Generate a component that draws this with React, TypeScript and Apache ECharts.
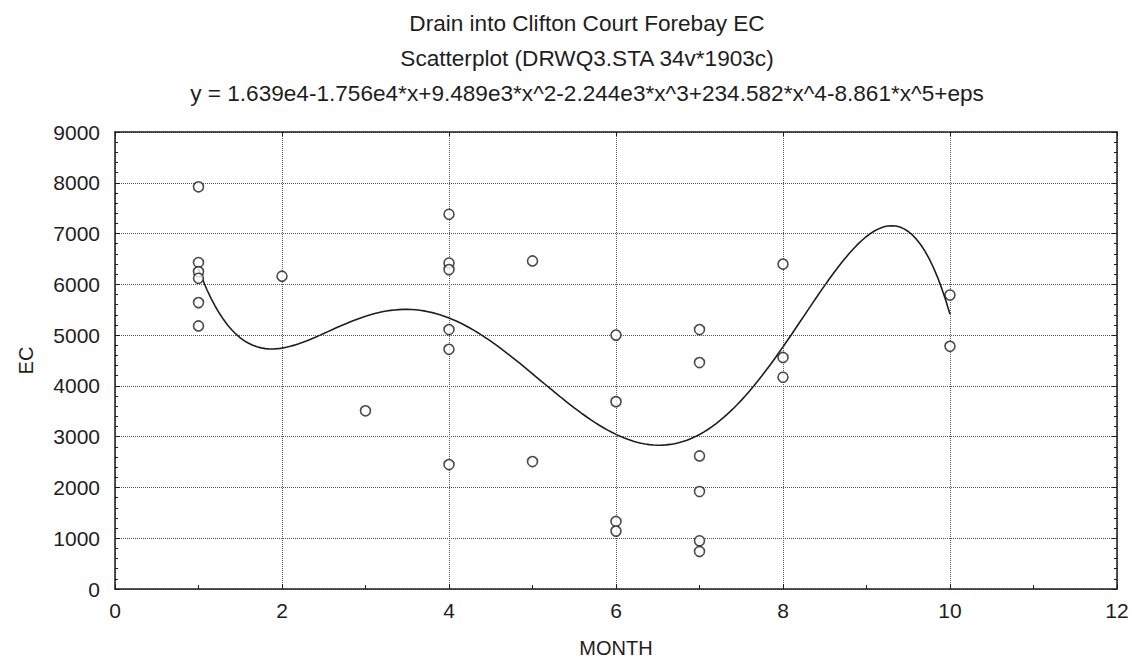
import React, { useEffect, useRef } from "react";
import * as echarts from "echarts";

// Header lines shown above the plot
const titleLines = [
  "Drain into Clifton Court Forebay EC",
  "Scatterplot (DRWQ3.STA 34v*1903c)",
  "y = 1.639e4-1.756e4*x+9.489e3*x^2-2.244e3*x^3+234.582*x^4-8.861*x^5+eps",
];

// Observations: month of sample and measured EC
const months = [
  1, 1, 1, 1, 1, 1,
  2,
  3,
  4, 4, 4, 4, 4, 4,
  5, 5,
  6, 6, 6, 6,
  7, 7, 7, 7, 7, 7,
  8, 8, 8,
  10, 10,
];
const ecValues = [
  7920, 6430, 6250, 6120, 5640, 5180,
  6160,
  3510,
  7380, 6420, 6290, 5110, 4720, 2450,
  6460, 2510,
  5000, 3690, 1330, 1140,
  5110, 4460, 2620, 1920, 950, 740,
  6400, 4560, 4170,
  5790, 4780,
];

// Polynomial fit coefficients (constant term first), as printed in the header
const fitCoefficients = [16390, -17560, 9489, -2244, 234.582, -8.861];
const fitFrom = 1;
const fitTo = 10;

// Axis settings
const xMin = 0;
const xMax = 12;
const xStep = 2;
const yMin = 0;
const yMax = 9000;
const yStep = 1000;
const xAxisTitle = "MONTH";
const yAxisTitle = "EC";

const FONT = "'Liberation Sans', Arial, sans-serif";
const INK = "#1e1e1e";

function evalPoly(coeffs: number[], x: number): number {
  let s = 0;
  for (let i = coeffs.length - 1; i >= 0; i--) s = s * x + coeffs[i];
  return s;
}

export default function App() {
  const ref = useRef<HTMLDivElement>(null);

  useEffect(() => {
    if (!ref.current) return;
    const chart = echarts.init(ref.current, undefined, { renderer: "svg" });

    const scatterData = months.map((m, i) => [m, ecValues[i]]);
    const curve: number[][] = [];
    const steps = 180;
    for (let i = 0; i <= steps; i++) {
      const x = fitFrom + ((fitTo - fitFrom) * i) / steps;
      curve.push([x, evalPoly(fitCoefficients, x)]);
    }

    const frameLine = { show: true, onZero: false, lineStyle: { color: INK, width: 1.5 } };
    const gridDots = { show: true, lineStyle: { color: "#555", width: 1, type: "dotted" as const } };
    const plain = (v: number) => String(v);

    chart.setOption({
      animation: false,
      backgroundColor: "#ffffff",
      textStyle: { fontFamily: FONT },
      grid: { left: 115, right: 18, top: 132, bottom: 77, containLabel: false },
      graphic: titleLines.map((t, i) => ({
        type: "text",
        x: 587,
        y: 23 + i * 35,
        style: {
          text: t,
          fill: INK,
          font: `22.6px ${FONT}`,
          textAlign: "center",
          textVerticalAlign: "middle",
        },
      })),
      xAxis: [
        {
          type: "value",
          min: xMin,
          max: xMax,
          interval: xStep,
          position: "bottom",
          axisLine: frameLine,
          axisTick: { show: true, inside: true, length: 5, lineStyle: { color: INK } },
          minorTick: { show: true, splitNumber: 2, length: 4, lineStyle: { color: INK } },
          splitLine: gridDots,
          axisLabel: { color: INK, fontSize: 21, margin: 11, fontFamily: FONT, formatter: plain },
          name: xAxisTitle,
          nameLocation: "middle",
          nameGap: 49,
          nameTextStyle: { color: INK, fontSize: 20, fontFamily: FONT },
        },
        {
          type: "value",
          min: xMin,
          max: xMax,
          interval: xStep,
          position: "top",
          axisLine: frameLine,
          axisTick: { show: true, inside: true, length: 4, lineStyle: { color: INK } },
          minorTick: { show: false },
          splitLine: { show: false },
          axisLabel: { show: false },
        },
      ],
      yAxis: [
        {
          type: "value",
          min: yMin,
          max: yMax,
          interval: yStep,
          position: "left",
          axisLine: frameLine,
          axisTick: { show: true, inside: true, length: 5, lineStyle: { color: INK } },
          minorTick: { show: true, splitNumber: 5, length: 3, lineStyle: { color: INK } },
          splitLine: gridDots,
          axisLabel: { color: INK, fontSize: 21, margin: 15, fontFamily: FONT, formatter: plain },
          name: yAxisTitle,
          nameLocation: "middle",
          nameRotate: 90,
          nameGap: 79,
          nameTextStyle: { color: INK, fontSize: 20, fontFamily: FONT },
        },
        {
          type: "value",
          min: yMin,
          max: yMax,
          interval: yStep,
          position: "right",
          axisLine: frameLine,
          axisTick: { show: true, inside: true, length: 5, lineStyle: { color: INK } },
          minorTick: { show: true, splitNumber: 5, length: 3, lineStyle: { color: INK } },
          splitLine: { show: false },
          axisLabel: { show: false },
        },
      ],
      series: [
        {
          type: "line",
          data: curve,
          showSymbol: false,
          smooth: false,
          lineStyle: { color: INK, width: 1.6 },
          z: 2,
          silent: true,
        },
        {
          type: "scatter",
          data: scatterData,
          symbol: "circle",
          symbolSize: 10,
          itemStyle: { color: "#ffffff", borderColor: INK, borderWidth: 1.6 },
          z: 3,
        },
      ],
    });

    return () => chart.dispose();
  }, []);

  return (
    <div
      ref={ref}
      style={{ position: "absolute", left: 0, top: 0, width: 1135, height: 666, background: "#fff" }}
    />
  );
}
